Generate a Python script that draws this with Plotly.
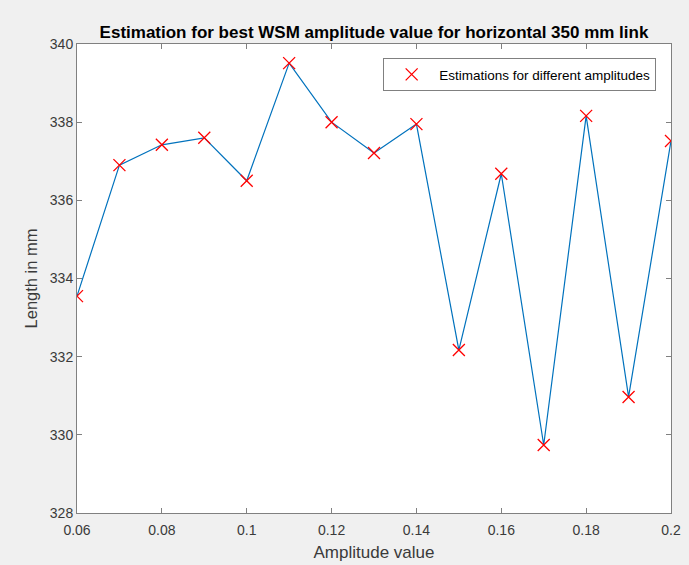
import plotly.graph_objects as go

amplitudes = [0.06, 0.07, 0.08, 0.09, 0.10, 0.11, 0.12, 0.13, 0.14, 0.15, 0.16, 0.17, 0.18, 0.19, 0.20]
lengths = [333.55, 336.9, 337.42, 337.6, 336.5, 339.51, 338.0, 337.21, 337.95, 332.17, 336.68, 329.74, 338.16, 330.97, 337.52]

x_tickvals = [0.06, 0.08, 0.10, 0.12, 0.14, 0.16, 0.18, 0.20]
x_ticktext = ["0.06", "0.08", "0.1", "0.12", "0.14", "0.16", "0.18", "0.2"]
y_tickvals = [328, 330, 332, 334, 336, 338, 340]

FONT = "Liberation Sans, Arial, Helvetica, sans-serif"
AXIS_COLOR = "#808080"
TEXT_COLOR = "#3a3a3a"

fig = go.Figure()
fig.add_trace(go.Scatter(
    x=amplitudes, y=lengths, mode="lines",
    line=dict(color="#0072BD", width=1.2),
    showlegend=False, hoverinfo="skip",
))
fig.add_trace(go.Scatter(
    x=amplitudes, y=lengths, mode="markers",
    marker=dict(symbol="x-thin", size=12, line=dict(color="#FF0000", width=1.3), color="#FF0000"),
    name="Estimations for different amplitudes",
))

axis_common = dict(
    showgrid=False, zeroline=False,
    showline=True, linecolor=AXIS_COLOR, linewidth=1,
    mirror="ticks", ticks="inside", ticklen=5, tickcolor=AXIS_COLOR,
    tickfont=dict(family=FONT, size=14, color=TEXT_COLOR),
    automargin=False,
)

fig.update_layout(
    width=689, height=565,
    paper_bgcolor="#f0f0f0", plot_bgcolor="#ffffff",
    margin=dict(l=77, r=18, t=44, b=52),
    title=dict(
        text="<b>Estimation for best WSM amplitude value for horizontal 350 mm link</b>",
        x=0.5, xanchor="center", xref="paper", y=1, yref="paper", yanchor="bottom",
        pad=dict(b=6),
        font=dict(family=FONT, size=17, color="#000000"),
    ),
    xaxis=dict(
        range=[0.06, 0.20], tickvals=x_tickvals, ticktext=x_ticktext,
        ticklabelstandoff=4,
        title=dict(text="Amplitude value", font=dict(family=FONT, size=17, color=TEXT_COLOR), standoff=9),
        **axis_common,
    ),
    yaxis=dict(
        range=[328, 340], tickvals=y_tickvals,
        title=dict(text="Length in mm", font=dict(family=FONT, size=16.5, color=TEXT_COLOR), standoff=8),
        **axis_common,
    ),
    legend=dict(
        x=0.975, y=0.97, xanchor="right", yanchor="top",
        bgcolor="#ffffff", bordercolor=AXIS_COLOR, borderwidth=1,
        font=dict(family=FONT, size=13.5, color="#000000"),
        itemwidth=45,
    ),
    showlegend=True,
)

fig.write_html("out.html")
